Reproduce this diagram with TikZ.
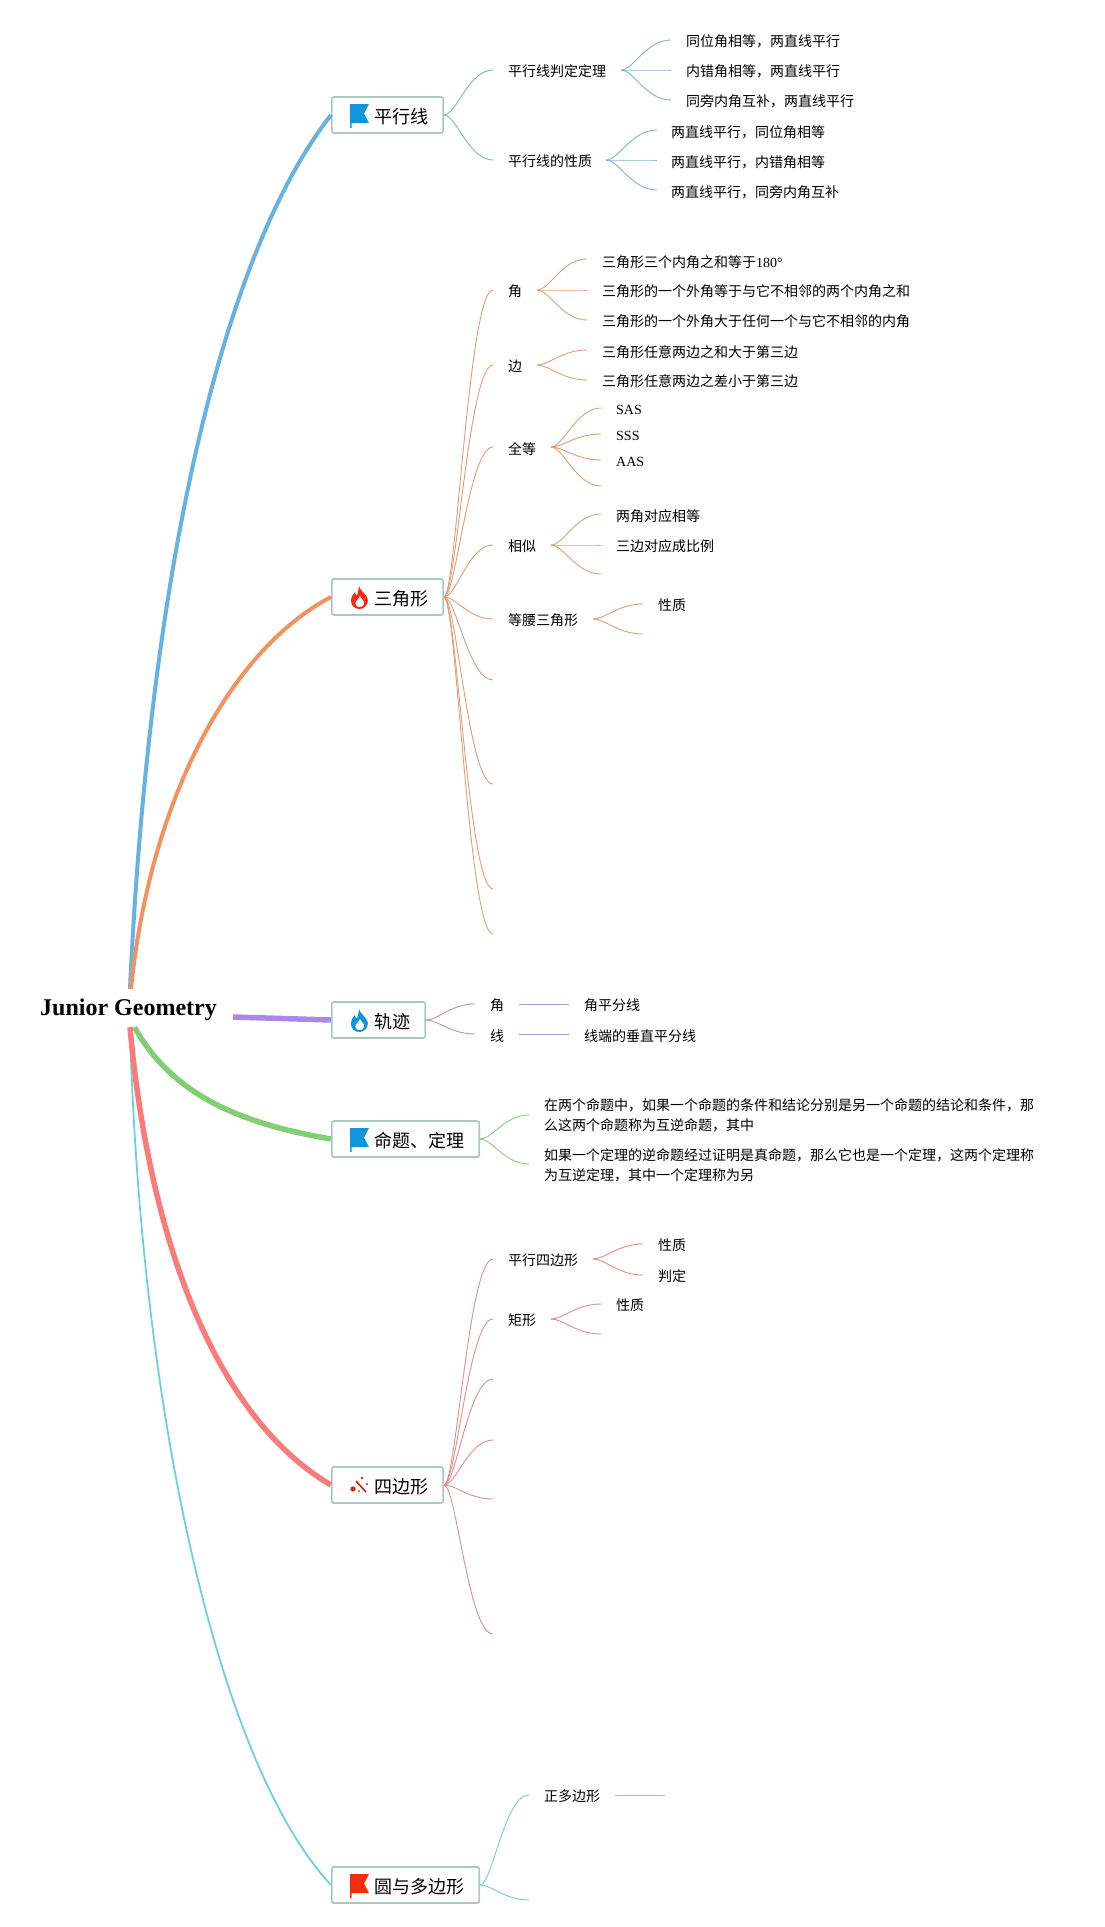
\documentclass[tikz,border=0pt]{standalone}
\usepackage{fontspec}
\usetikzlibrary{calc}
\setmainfont{Liberation Serif}
\newfontfamily\cjk{Noto Sans CJK SC}
\definecolor{cblue}{HTML}{66B2E2}
\definecolor{corange}{HTML}{F2935F}
\definecolor{cpurple}{HTML}{A988E8}
\definecolor{cgreen}{HTML}{82CF72}
\definecolor{cred}{HTML}{F87C7C}
\definecolor{cteal}{HTML}{6BD3D8}
\definecolor{boxline}{HTML}{A9C9C0}
\definecolor{iconblue}{HTML}{1296DB}
\definecolor{iconred}{HTML}{F42C10}
\tikzset{
  rootnode/.style={font=\bfseries\fontsize{24}{28}\selectfont,inner xsep=16pt,inner ysep=0pt,minimum height=38pt},
  topic/.style={draw=boxline,line width=1.6pt,rounded corners=2pt,fill=white,inner sep=0pt,minimum height=36pt,anchor=west,font=\cjk\fontsize{18}{22}\selectfont},
  leaf/.style={anchor=west,inner sep=0pt,text height=12pt,text depth=2pt,font=\cjk\fontsize{14}{20}\selectfont},
  latin/.style={anchor=west,inner sep=0pt,text height=12pt,text depth=2pt,font=\fontsize{14}{20}\selectfont},
  para/.style={anchor=west,inner sep=0pt,align=left,font=\cjk\fontsize{14}{20}\selectfont},
  mainedge/.style={line cap=butt,line width=#1},
}
\newcommand\toptext[1]{\hspace*{42.4pt}\raisebox{-8pt}[0pt][0pt]{#1}\hspace*{15pt}}
% twig{colour}{from}{name}{x}{y}
\newcommand\twig[5]{%
  \coordinate (#3) at (#4,#5);
  \coordinate (#3c1) at ($(#2)!.25!(#3)$);
  \coordinate (#3c2) at ($(#2)!.5!(#3)$);
  \draw[#1!90!black!80,line width=.9pt] (#2) .. controls (#3c1 |- #2) and (#3c2 |- #3) .. (#3);}
\newcommand\flagicon[3]{\fill[#3,shift={(#1,#2)}] (0,0) -- (19,0) -- (14,9.5) -- (19,19) -- (1.5,19) -- (1.5,24) -- (0,24) -- cycle;}
\newcommand\flameicon[3]{%
  \fill[#3,shift={(#1,#2)}] (8,0) .. controls (9,5) and (16,8) .. (17,14) .. controls (17,20) and (12,23) .. (8.5,23) .. controls (4,23) and (0,20) .. (0,15) .. controls (0,11) and (2,8) .. (4,6) .. controls (4,8) and (5,9) .. (6,9.5) .. controls (7,6) and (8,3) .. (8,0) -- cycle;
  \fill[white,shift={(#1,#2)}] (9,10) .. controls (10,13) and (14,15) .. (13,18) .. controls (12,22) and (5,22) .. (4.5,18) .. controls (4,15) and (8,13) .. (9,10) -- cycle;}
\begin{document}
\begin{tikzpicture}[x=1pt,y=-1pt]
\useasboundingbox (0,0) rectangle (1104,1927);
\fill[white] (0,0) rectangle (1104,1927);

% root and topics
\node[rootnode] (root) at (128.5,1008) {\raisebox{-7.5pt}[0pt][0pt]{Junior Geometry}};
\node[topic] (t1) at (331,115) {\toptext{平行线}};
\node[topic] (t2) at (331,597) {\toptext{三角形}};
\node[topic] (t3) at (331,1020) {\toptext{轨迹}};
\node[topic] (t4) at (331,1139) {\toptext{命题、定理}};
\node[topic] (t5) at (331,1485) {\toptext{四边形}};
\node[topic] (t6) at (331,1885) {\toptext{圆与多边形}};

% main edges
\draw[cteal,mainedge=1.8pt] ([xshift=1.5pt]root.south) .. controls (140,1400) and (215,1760) .. (t6.west);
\draw[cred,mainedge=5.5pt] ([xshift=1.5pt]root.south) .. controls (150,1250) and (220,1420) .. (t5.west);
\draw[cgreen,mainedge=5.5pt] ([xshift=6pt]root.south) .. controls (175,1100) and (250,1125) .. (t4.west);
\draw[cpurple,mainedge=5.5pt] ([yshift=-9pt]root.east) -- (t3.west);
\draw[cblue,mainedge=4pt] ([xshift=1.5pt]root.north) .. controls (150,560) and (225,250) .. (t1.west);
\draw[corange,mainedge=4pt] ([xshift=2.5pt]root.north) .. controls (150,800) and (230,650) .. (t2.west);

% icons
\flagicon{350}{104}{iconblue}
\flameicon{351}{586}{iconred}
\flameicon{351}{1009}{iconblue}
\flagicon{350}{1128}{iconblue}
\flagicon{350}{1874}{iconred}
\draw[iconred!85!black,line width=1.6pt] (356,1481) -- (366,1492);
\fill[iconred!85!black] (353,1489) circle (2.6) (362,1478) circle (1.3) (367,1484) circle (1.2) (359,1491) circle (1);

% t1 branch
\node[leaf] (a1) at (508,71.5) {平行线判定定理};
\node[leaf] (a2) at (508,161) {平行线的性质};
\twig{cblue}{t1.east}{e1}{493}{70}
\twig{cblue}{t1.east}{e2}{493}{160}
\node[leaf] (a11) at (686,41.5) {同位角相等，两直线平行};
\node[leaf] (a12) at (686,71.5) {内错角相等，两直线平行};
\node[leaf] (a13) at (686,101) {同旁内角互补，两直线平行};
\coordinate (a1s) at (621,70);
\twig{cblue}{a1s}{e11}{671}{40}
\twig{cblue}{a1s}{e12}{671}{70}
\twig{cblue}{a1s}{e13}{671}{100}
\node[leaf] (a21) at (671,132) {两直线平行，同位角相等};
\node[leaf] (a22) at (671,162) {两直线平行，内错角相等};
\node[leaf] (a23) at (671,192) {两直线平行，同旁内角互补};
\coordinate (a2s) at (606,160);
\twig{cblue}{a2s}{e21}{657}{130}
\twig{cblue}{a2s}{e22}{657}{160}
\twig{cblue}{a2s}{e23}{657}{190}

% t2 branch
\node[leaf] (b1) at (508,291) {角};
\node[leaf] (b2) at (508,366) {边};
\node[leaf] (b3) at (508,449) {全等};
\node[leaf] (b4) at (508,546) {相似};
\node[leaf] (b5) at (508,620) {等腰三角形};
\twig{corange}{t2.east}{f1}{493}{290}
\twig{corange}{t2.east}{f2}{493}{365}
\twig{corange}{t2.east}{f3}{493}{447}
\twig{corange}{t2.east}{f4}{493}{545}
\twig{corange}{t2.east}{f5}{493}{619}
\twig{corange}{t2.east}{f6}{493}{680}
\twig{corange}{t2.east}{f7}{493}{784}
\twig{corange}{t2.east}{f8}{493}{889}
\twig{corange}{t2.east}{f9}{493}{934}
\coordinate (b1s) at (537,290);
\node[leaf] (b11) at (602,262) {三角形三个内角之和等于{\rmfamily 180°}};
\node[leaf] (b12) at (602,291) {三角形的一个外角等于与它不相邻的两个内角之和};
\node[leaf] (b13) at (602,321) {三角形的一个外角大于任何一个与它不相邻的内角};
\twig{corange}{b1s}{f11}{587}{259}
\twig{corange}{b1s}{f12}{587}{290}
\twig{corange}{b1s}{f13}{587}{320}
\coordinate (b2s) at (537,365);
\node[leaf] (b21) at (602,352) {三角形任意两边之和大于第三边};
\node[leaf] (b22) at (602,381) {三角形任意两边之差小于第三边};
\twig{corange}{b2s}{f21}{587}{350}
\twig{corange}{b2s}{f22}{587}{380}
\coordinate (b3s) at (551,447);
\node[latin] (b31) at (616,409.5) {SAS};
\node[latin] (b32) at (616,435) {SSS};
\node[latin] (b33) at (616,461) {AAS};
\twig{corange}{b3s}{f31}{601}{408}
\twig{corange}{b3s}{f32}{601}{434}
\twig{corange}{b3s}{f33}{601}{460}
\twig{corange}{b3s}{f34}{601}{486}
\coordinate (b4s) at (551,545);
\node[leaf] (b41) at (616,516) {两角对应相等};
\node[leaf] (b42) at (616,546) {三边对应成比例};
\twig{corange}{b4s}{f41}{601}{514}
\twig{corange}{b4s}{f42}{601}{545}
\twig{corange}{b4s}{f43}{601}{574}
\coordinate (b5s) at (593,619);
\node[leaf] (b51) at (658,605) {性质};
\twig{corange}{b5s}{f51}{643}{604}
\twig{corange}{b5s}{f52}{643}{634}

% t3 branch
\node[leaf] (c1) at (490,1005) {角};
\node[leaf] (c2) at (490,1036) {线};
\twig{cpurple}{t3.east}{g1}{475}{1004}
\twig{cpurple}{t3.east}{g2}{475}{1034}
\node[leaf] (c11) at (584,1005) {角平分线};
\node[leaf] (c21) at (584,1036) {线端的垂直平分线};
\coordinate (c1s) at (519,1004);
\coordinate (c1e) at (569,1004);
\coordinate (c2s) at (519,1034);
\coordinate (c2e) at (569,1034);
\draw[cpurple!90!black!80,line width=.9pt] (c1s) -- (c1e);
\draw[cpurple!90!black!80,line width=.9pt] (c2s) -- (c2e);

% t4 branch
\twig{cgreen}{t4.east}{h1}{529}{1115}
\twig{cgreen}{t4.east}{h2}{529}{1164}
\node[para] (d1) at (544,1115) {在两个命题中，如果一个命题的条件和结论分别是另一个命题的结论和条件，那\\么这两个命题称为互逆命题，其中};
\node[para] (d2) at (544,1165.5) {如果一个定理的逆命题经过证明是真命题，那么它也是一个定理，这两个定理称\\为互逆定理，其中一个定理称为另};

% t5 branch
\node[leaf] (p1) at (508,1260) {平行四边形};
\node[leaf] (p2) at (508,1320) {矩形};
\twig{cred}{t5.east}{i1}{493}{1259}
\twig{cred}{t5.east}{i2}{493}{1319}
\twig{cred}{t5.east}{i3}{493}{1379}
\twig{cred}{t5.east}{i4}{493}{1440}
\twig{cred}{t5.east}{i5}{493}{1499}
\twig{cred}{t5.east}{i6}{493}{1634}
\coordinate (p1s) at (593,1259);
\node[leaf] (p11) at (658,1245) {性质};
\node[leaf] (p12) at (658,1276) {判定};
\twig{cred}{p1s}{i11}{643}{1244}
\twig{cred}{p1s}{i12}{643}{1275}
\coordinate (p2s) at (551,1319);
\node[leaf] (p21) at (616,1305) {性质};
\twig{cred}{p2s}{i21}{601}{1304}
\twig{cred}{p2s}{i22}{601}{1334}

% t6 branch
\node[leaf] (q1) at (544,1796) {正多边形};
\twig{cteal}{t6.east}{j1}{529}{1795}
\twig{cteal}{t6.east}{j2}{529}{1900}
\coordinate (q1s) at (615,1795);
\coordinate (q1e) at (665,1795);
\draw[cteal!90!black!80,line width=.9pt] (q1s) -- (q1e);
\end{tikzpicture}
\end{document}
